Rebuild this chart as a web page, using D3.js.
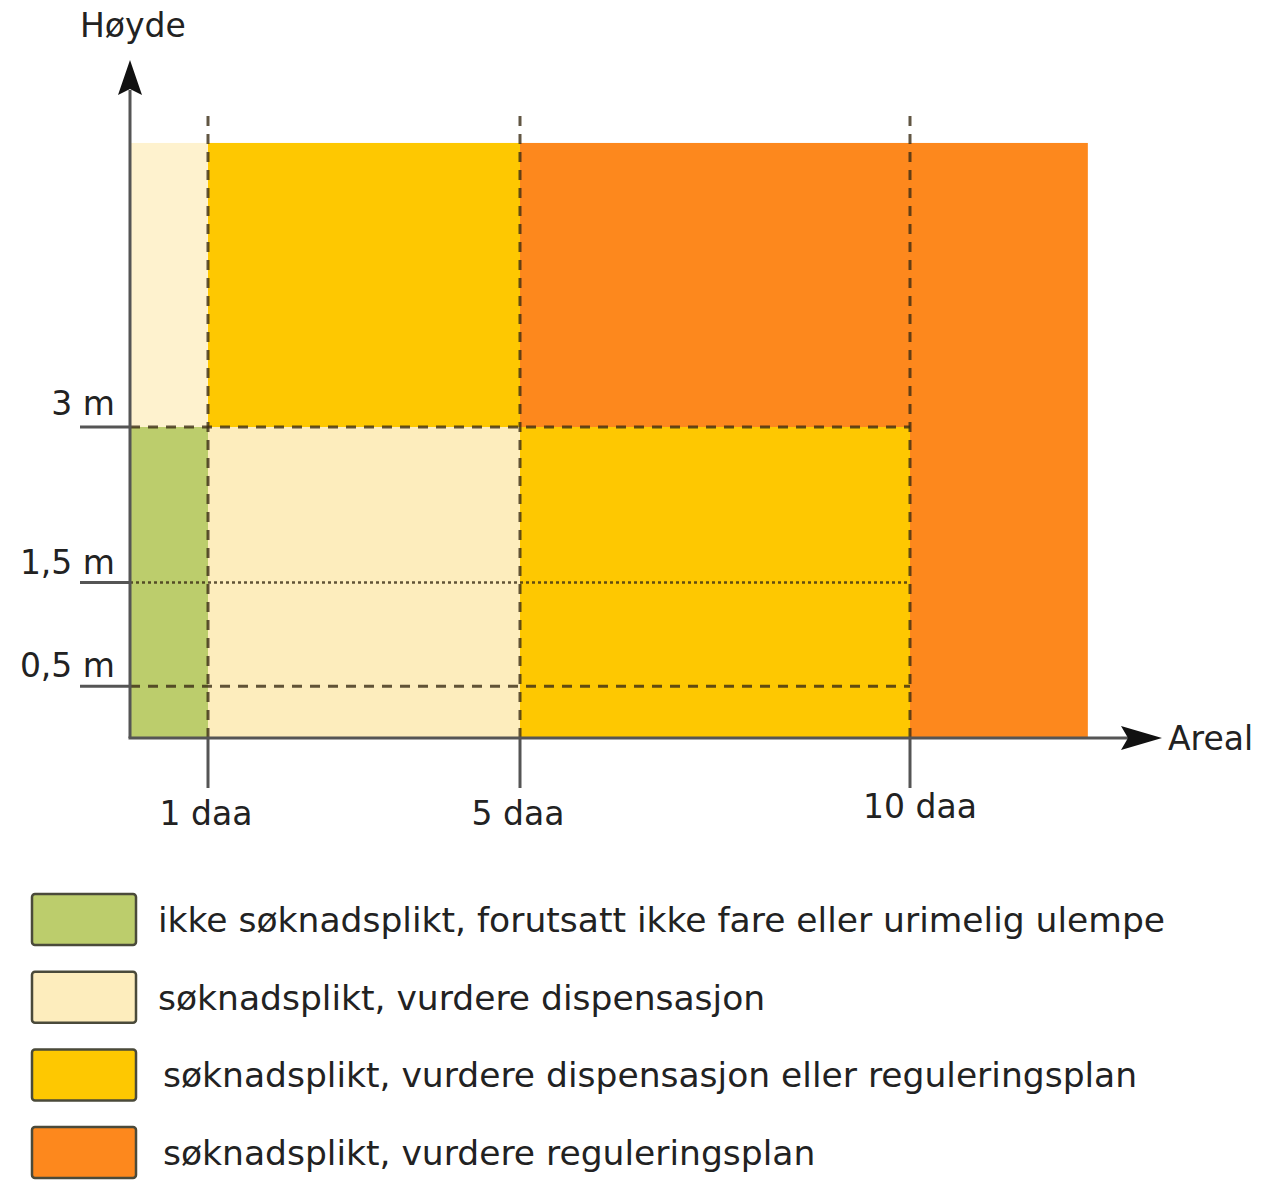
<!DOCTYPE html>
<html>
<head>
<meta charset="utf-8">
<script src="https://cdn.jsdelivr.net/npm/d3@7"></script>
<style>
body { margin: 0; background: #fff; }
text { font-family: "DejaVu Sans", Verdana, sans-serif; fill: #222; }
</style>
</head>
<body>
<svg id="svg" width="1281" height="1180"></svg>
<script>
// categories (legend order) and their colours
var categories = ["ikke søknadsplikt, forutsatt ikke fare eller urimelig ulempe",
                  "søknadsplikt, vurdere dispensasjon",
                  "søknadsplikt, vurdere dispensasjon eller reguleringsplan",
                  "søknadsplikt, vurdere reguleringsplan"];
var colors = ["#bccd6c", "#fdedbd", "#fec801", "#fd881d"];

// zones: [areal fra, areal til, høyde fra, høyde til, kategori]
var zones = [[0, 1, 0, 3, 0],
             [0, 1, 3, 5.74, 1],
             [1, 5, 0, 3, 1],
             [1, 5, 3, 5.74, 2],
             [5, 10, 0, 3, 2],
             [5, 10, 3, 5.74, 3],
             [10, 12.28, 0, 5.74, 3]];

var xTicks = [1, 5, 10];
var xTickLabels = ["1 daa", "5 daa", "10 daa"];
var yTicks = [3, 1.5, 0.5];
var yTickLabels = ["3 m", "1,5 m", "0,5 m"];
var yTickStyle = ["dash", "dot", "dash"];

var svg = d3.select("#svg");
var x = d3.scaleLinear().domain([0, 10]).range([130, 910]);
var y = d3.scaleLinear().domain([0, 3]).range([738, 427]);

// coloured zones
svg.selectAll("rect.zone").data(zones).enter().append("rect")
    .attr("class", "zone")
    .attr("x", function(d){return x(d[0]);})
    .attr("y", function(d){return y(d[3]);})
    .attr("width", function(d){return x(d[1]) - x(d[0]);})
    .attr("height", function(d){return y(d[2]) - y(d[3]);})
    .attr("fill", function(d){return colors[d[4]];})
    .attr("fill-opacity", function(d){return d[4] == 1 && d[0] == 0 ? 0.75 : 1;});

// vertical grid lines (dashed) + solid tick below axis
svg.selectAll("line.vgrid").data(xTicks).enter().append("line")
    .attr("x1", function(d){return x(d);}).attr("x2", function(d){return x(d);})
    .attr("y1", y(6)).attr("y2", y(0))
    .attr("stroke", "#3a2c14").attr("stroke-opacity", 0.8)
    .attr("stroke-width", 3).attr("stroke-dasharray", "10,8");
svg.selectAll("line.vtick").data(xTicks).enter().append("line")
    .attr("x1", function(d){return x(d);}).attr("x2", function(d){return x(d);})
    .attr("y1", y(0)).attr("y2", y(0) + 50)
    .attr("stroke", "#555").attr("stroke-width", 3);

// horizontal grid lines + solid tick left of axis
svg.selectAll("line.hgrid").data(yTicks).enter().append("line")
    .attr("x1", x(0)).attr("x2", x(10))
    .attr("y1", function(d){return y(d);}).attr("y2", function(d){return y(d);})
    .attr("stroke", "#3a2c14").attr("stroke-opacity", 0.8)
    .attr("stroke-width", function(d, i){return yTickStyle[i] == "dot" ? 2.5 : 3;})
    .attr("stroke-dasharray", function(d, i){return yTickStyle[i] == "dot" ? "3,3" : "10,8";});
svg.selectAll("line.htick").data(yTicks).enter().append("line")
    .attr("x1", x(0) - 50).attr("x2", x(0))
    .attr("y1", function(d){return y(d);}).attr("y2", function(d){return y(d);})
    .attr("stroke", "#555").attr("stroke-width", 3);

// axes with arrows
svg.append("line").attr("x1", x(0)).attr("y1", y(0)).attr("x2", x(0)).attr("y2", 90)
    .attr("stroke", "#555").attr("stroke-width", 3);
svg.append("path").attr("d", "M130,60 L118,95 L130,89 L142,95 Z").attr("fill", "#111");
svg.append("line").attr("x1", x(0) - 1.5).attr("y1", y(0)).attr("x2", 1128).attr("y2", y(0))
    .attr("stroke", "#555").attr("stroke-width", 3);
svg.append("path").attr("d", "M1162,738 L1121,726 L1128,738 L1121,750 Z").attr("fill", "#111");

// tick labels
svg.selectAll("text.xl").data(xTicks).enter().append("text")
    .attr("x", function(d, i){return x(d) - 2 + (i == 2 ? 12 : 0);})
    .attr("y", function(d, i){return i == 2 ? 818 : 825;})
    .attr("text-anchor", "middle").attr("font-size", 33)
    .text(function(d, i){return xTickLabels[i];});
svg.selectAll("text.yl").data(yTicks).enter().append("text")
    .attr("x", 115)
    .attr("y", function(d, i){return y(d) - (i == 0 ? 12 : 9);})
    .attr("text-anchor", "end").attr("font-size", 33)
    .text(function(d, i){return yTickLabels[i];});

// axis titles
svg.append("text").attr("x", 80).attr("y", 37).attr("font-size", 33).text("Høyde");
svg.append("text").attr("x", 1168).attr("y", 738 + 12).attr("font-size", 33).text("Areal");

// legend
var legend = svg.selectAll("g.legend").data(categories).enter().append("g")
    .attr("transform", function(d, i){return "translate(0," + (919 + i * 77.7) + ")";});
legend.append("rect")
    .attr("x", 32).attr("y", -25).attr("width", 104).attr("height", 51).attr("rx", 3)
    .attr("fill", function(d, i){return colors[i];})
    .attr("stroke", "#4a4a3a").attr("stroke-width", 2.5);
legend.append("text")
    .attr("x", function(d, i){return i >= 2 ? 163 : 158;})
    .attr("y", 13).attr("font-size", 34.5)
    .text(function(d){return d;});
</script>
</body>
</html>
